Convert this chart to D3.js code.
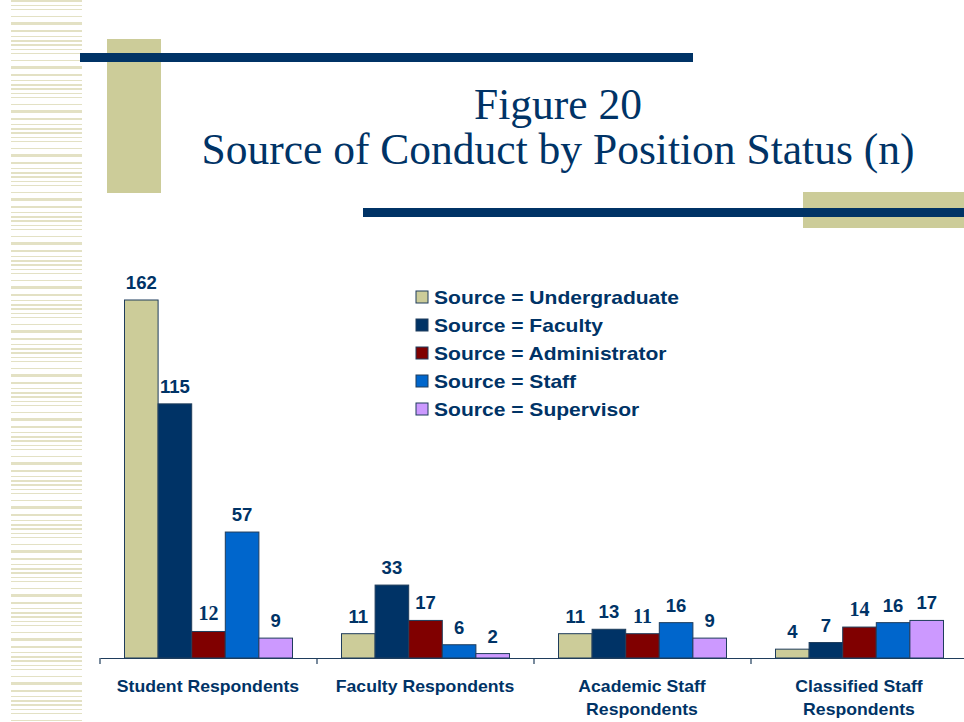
<!DOCTYPE html>
<html>
<head>
<meta charset="utf-8">
<script src="https://cdn.jsdelivr.net/npm/d3@7"></script>
<style>
  html, body { margin: 0; padding: 0; background: #ffffff; }
  svg { display: block; }
</style>
</head>
<body>
<svg id="chart" width="964" height="722"></svg>
<script>
// ---- Data ----
const titleLines = ["Figure 20", "Source of Conduct by Position Status (n)"];
const categories = [
  ["Student Respondents"],
  ["Faculty Respondents"],
  ["Academic Staff", "Respondents"],
  ["Classified Staff", "Respondents"]
];
const seriesNames = [
  "Source = Undergraduate",
  "Source = Faculty",
  "Source = Administrator",
  "Source = Staff",
  "Source = Supervisor"
];
const undergraduate = [162, 11, 11, 4];
const faculty       = [115, 33, 13, 7];
const administrator = [12, 17, 11, 14];
const staff         = [57, 6, 16, 16];
const supervisor    = [9, 2, 9, 17];
const seriesColors  = ["#cccc99", "#003366", "#800000", "#0066cc", "#cc99ff"];
// label font style per bar (the original mixes serif and sans labels)
const serifLabel = [
  [false, false, true, false, false],
  [false, false, false, false, false],
  [false, false, true, false, false],
  [false, false, true, false, false]
];

const series = [undergraduate, faculty, administrator, staff, supervisor];

const svg = d3.select("#chart");
const navy = "#003366";
const tan = "#cccc99";

// ---- Decorations ----
const defs = svg.append("defs");
const pat = defs.append("pattern")
  .attr("id", "stripes").attr("patternUnits", "userSpaceOnUse")
  .attr("width", 71).attr("height", 44);
[[0,2],[5,1],[9,1],[16,1],[22,3],[30,2],[36,1],[40,2]].forEach(s => {
  pat.append("rect").attr("x", 0).attr("y", s[0]).attr("width", 71).attr("height", s[1]).attr("fill", "#e3e1c4");
});
svg.append("rect").attr("x", 11).attr("y", 0).attr("width", 71).attr("height", 722).attr("fill", "url(#stripes)");

svg.append("rect").attr("x", 107).attr("y", 39).attr("width", 54).attr("height", 154).attr("fill", tan);
svg.append("rect").attr("x", 80).attr("y", 53).attr("width", 613).attr("height", 9).attr("fill", navy);
svg.append("rect").attr("x", 803).attr("y", 192).attr("width", 161).attr("height", 36).attr("fill", tan);
svg.append("rect").attr("x", 363).attr("y", 208).attr("width", 601).attr("height", 9).attr("fill", navy);

const sans = "'Liberation Sans', Arial, sans-serif";
const serif = "'Liberation Serif', 'Times New Roman', serif";

// stretched text helper (original slide text renders slightly wide)
function wideText(parent, x, y, sx, txt) {
  return parent.append("text")
    .attr("transform", `translate(${x},${y}) scale(${sx},1)`)
    .text(txt);
}

// ---- Title ----
titleLines.forEach((t, i) => {
  svg.append("text").attr("x", 558).attr("y", 119 + i * 45)
    .attr("text-anchor", "middle").attr("font-family", serif)
    .attr("font-size", 43.5).attr("fill", navy).text(t);
});

// ---- Scales ----
const x0 = d3.scaleBand().domain(d3.range(categories.length)).range([100, 968]).paddingInner(0).paddingOuter(0);
const x1 = d3.scaleBand().domain(d3.range(seriesNames.length)).range([24.5, 217 - 24.5]).padding(0);
const y = d3.scaleLinear().domain([0, 162]).range([658, 300]);

// ---- Bars ----
categories.forEach((cat, ci) => {
  const g = svg.append("g").attr("transform", `translate(${x0(ci)},0)`);
  series.forEach((vals, si) => {
    const v = vals[ci];
    g.append("rect")
      .attr("x", x1(si)).attr("y", y(v))
      .attr("width", x1.bandwidth()).attr("height", y(0) - y(v))
      .attr("fill", seriesColors[si])
      .attr("stroke", "#1f3d5c").attr("stroke-width", 1);
    const isSerif = serifLabel[ci][si];
    wideText(g, x1(si) + x1.bandwidth() / 2, y(v) - 11, isSerif ? 1.0 : 1.06, v)
      .attr("text-anchor", "middle")
      .attr("font-family", isSerif ? serif : sans)
      .attr("font-weight", "bold")
      .attr("font-size", isSerif ? 20 : 17.5)
      .attr("fill", navy);
  });
});

// ---- Axis ----
const axis = d3.axisBottom(x0).tickValues([]).tickSizeOuter(0);
const axG = svg.append("g").attr("transform", "translate(0,658)").call(axis);
axG.select(".domain").attr("stroke", "#1f3d5c").attr("stroke-width", 1.2);
const sepPositions = d3.range(categories.length).map(i => x0(i));
axG.selectAll("line.sep").data(sepPositions).enter().append("line")
  .attr("class", "sep").attr("x1", d => d).attr("x2", d => d)
  .attr("y1", 0).attr("y2", 6).attr("stroke", "#1f3d5c").attr("stroke-width", 1.2);

// category labels
categories.forEach((lines, ci) => {
  lines.forEach((ln, li) => {
    wideText(svg, x0(ci) + x0.bandwidth() / 2 - 0.5, 692 + li * 23, 1.07, ln)
      .attr("text-anchor", "middle")
      .attr("font-family", sans).attr("font-weight", "bold")
      .attr("font-size", 16.5).attr("fill", navy);
  });
});

// ---- Legend ----
const leg = svg.append("g");
seriesNames.forEach((name, i) => {
  const yy = 297 + i * 28;
  leg.append("rect").attr("x", 416).attr("y", yy - 6).attr("width", 12).attr("height", 12)
    .attr("fill", seriesColors[i]).attr("stroke", "#1f3d5c").attr("stroke-width", 1);
  wideText(leg, 434, yy + 6.5, 1.17, name)
    .attr("font-family", sans).attr("font-weight", "bold")
    .attr("font-size", 18).attr("fill", navy);
});
</script>
</body>
</html>
